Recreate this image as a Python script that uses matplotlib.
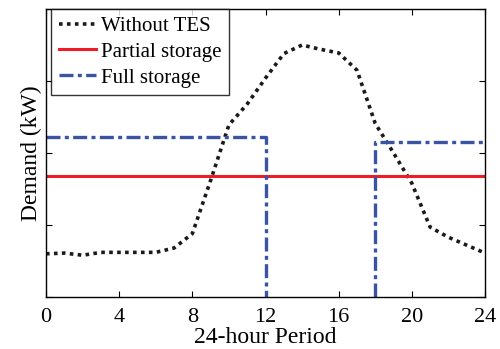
import matplotlib
matplotlib.use("Agg")
import matplotlib.pyplot as plt

nan = float('nan')
hours = list(range(25))
without_tes = [0.60, 0.61, 0.58, 0.62, 0.62, 0.62, 0.62, 0.68, 0.88, 1.62, 2.39, 2.68,
               3.04, 3.38, 3.50, 3.44, 3.39, 3.15, 2.41, 2.00, 1.58, 0.97, 0.83, 0.72, 0.61]
partial_x = [0, 24]
partial_y = [1.68, 1.68]
full_x = [0, 12, 12, nan, 18, 18, 24]
full_y = [2.22, 2.22, 0.0, nan, 0.0, 2.15, 2.15]
xticks = [0, 4, 8, 12, 16, 20, 24]

plt.rcParams['font.family'] = ['Liberation Serif', 'DejaVu Serif']
fig = plt.figure(figsize=(5.0, 3.49), dpi=100)
ax = fig.add_axes([46/500, 1-297/349, (485-46)/500, (297-9)/349])

ax.plot(hours, without_tes, color='#1a1a1a', linestyle=(0, (1, 1.2)), linewidth=2.6, label='Without TES')
ax.plot(partial_x, partial_y, color='#ee1c25', linewidth=2.2, label='Partial storage')
ax.plot(full_x, full_y, color='#3a53a4', linestyle=(0, (4.2, 1.3, 1.2, 1.3)), linewidth=2.4, label='Full storage')

ax.set_xlim(0, 24)
ax.set_ylim(0, 4)
ax.set_xticks(xticks)
ax.set_yticks([0, 1, 2, 3, 4])
ax.set_yticklabels([])
ax.tick_params(direction='in', top=True, right=True, labelsize=16, length=4, width=0.8, pad=8)
ax.set_xlabel('24-hour Period', fontsize=17, labelpad=0)
ax.set_ylabel('Demand (kW)', fontsize=17, labelpad=0)
ax.yaxis.set_label_coords(-0.01, 0.5)
for s in ax.spines.values():
    s.set_linewidth(1.0)

leg = ax.legend(loc='upper left', fontsize=15, frameon=True, fancybox=False, edgecolor='black',
                borderaxespad=0.0, bbox_to_anchor=(0.012, 1.0), handlelength=1.8,
                handletextpad=0.25, labelspacing=0.3, borderpad=0.35)
leg.get_frame().set_linewidth(1.0)

fig.savefig('out.png', dpi=100)
